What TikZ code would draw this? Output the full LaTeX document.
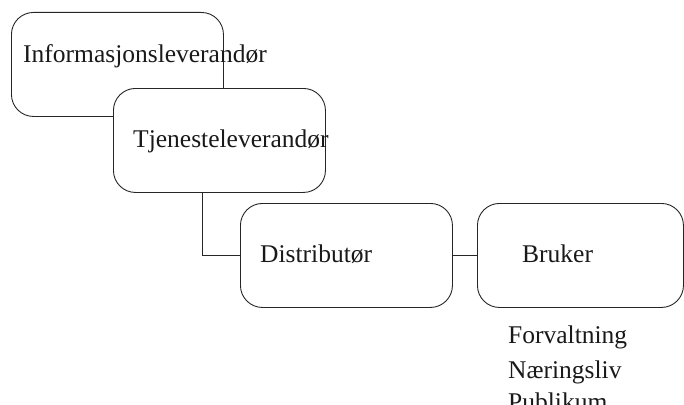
\documentclass[tikz,border=0pt]{standalone}
\usepackage{fontspec}
\setmainfont{Liberation Serif}
\begin{document}
\begin{tikzpicture}[x=1pt,y=-1pt,
  roundbox/.style={draw=black!85,line width=0.9pt,fill=white,rounded corners=22pt,
    anchor=north west,inner sep=0pt,minimum width=#1,minimum height=104pt},
  roundbox/.default=212pt,
  lbl/.style={anchor=base west,inner sep=0pt,text=black!90,
    font=\fontsize{25.5}{30}\selectfont},
  link/.style={draw=black!85,line width=0.9pt}]
\useasboundingbox (0,0) rectangle (684,404);
\clip (0,0) rectangle (684,404);

% provider chain, each box partly covering the previous one
\node[roundbox] (info) at (11,12) {};
\node[lbl] (infotxt) at (23,63) {Informasjonsleverandør};
\node[roundbox] (tjen) at (113,88) {};
\node[lbl] (tjentxt) at (133,147) {Tjenesteleverandør};
\node[roundbox] (dist) at (240,203) {};
\node[lbl] (disttxt) at (260,262) {Distributør};
\node[roundbox=206pt] (bruker) at (477,203) {};
\node[lbl] (brukertxt) at (522,262) {Bruker};

% user groups
\node[lbl] (g1) at (508,343) {Forvaltning};
\node[lbl] (g2) at (508,378) {Næringsliv};
\node[lbl] (g3) at (508,410) {Publikum};

% connectors
\draw[link] (tjen.south -| 202,0) |- (dist.west);
\draw[link] (dist.east) -- (bruker.west);
\end{tikzpicture}
\end{document}
